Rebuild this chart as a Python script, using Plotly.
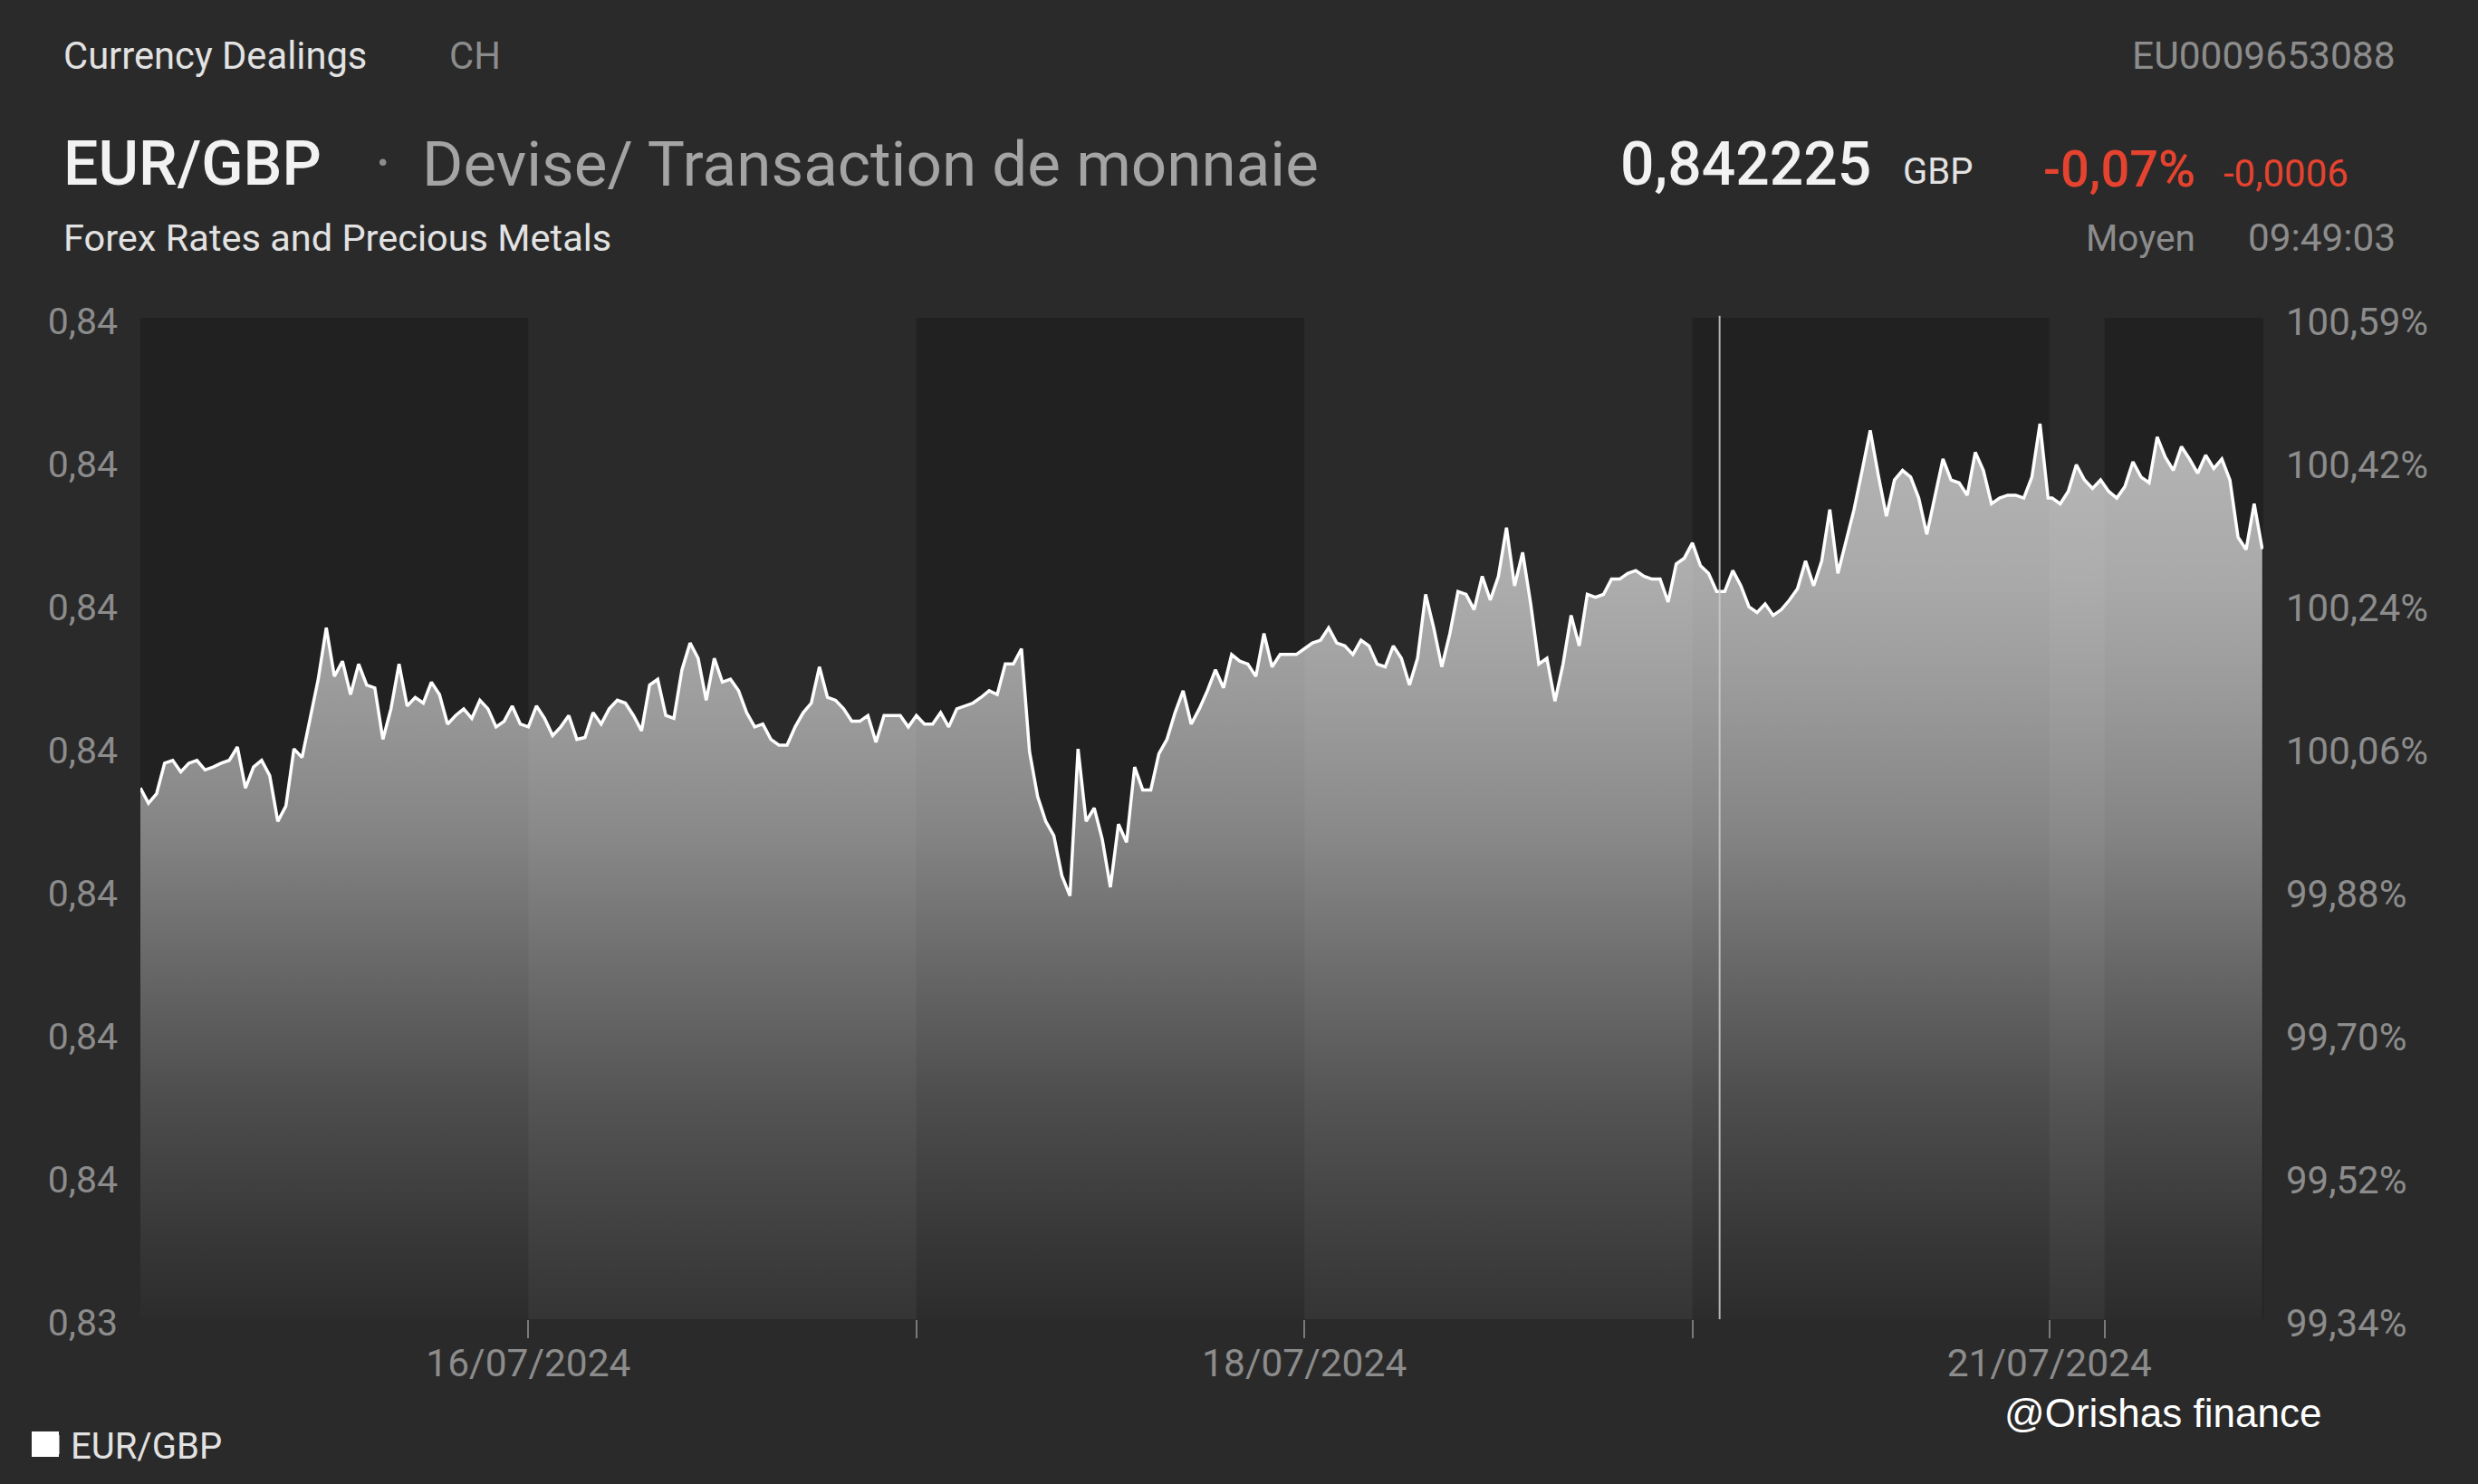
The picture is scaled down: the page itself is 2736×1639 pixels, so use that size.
import pandas as pd
import plotly.graph_objects as go

# ---------------- data ----------------
week_start = "2024-07-15 00:00"      # Mon 15/07 -> Fri 19/07 22:00, every 30 min
sunday_start = "2024-07-21 20:45"    # Sun 21/07 evening -> Mon 22/07 09:45
sample_freq = "30min"

week_prices = [
    0.83972, 0.83956, 0.83966, 0.83998, 0.84001, 0.83989, 0.83998, 0.84001, 0.83991, 0.83994,
    0.83998, 0.84001, 0.84015, 0.83972, 0.83994, 0.84001, 0.83985, 0.83937, 0.83953, 0.84013,
    0.84004, 0.84045, 0.84086, 0.84140, 0.84089, 0.84105, 0.84070, 0.84102, 0.84080, 0.84077,
    0.84023, 0.84055, 0.84102, 0.84058, 0.84067, 0.84061, 0.84083, 0.84070, 0.84039, 0.84048,
    0.84055, 0.84045, 0.84064, 0.84055, 0.84036, 0.84042, 0.84058, 0.84039, 0.84036, 0.84058,
    0.84045, 0.84027, 0.84036, 0.84048, 0.84023, 0.84025, 0.84051, 0.84039, 0.84055, 0.84064,
    0.84061, 0.84048, 0.84032, 0.84080, 0.84086, 0.84048, 0.84045, 0.84096, 0.84124, 0.84108,
    0.84064, 0.84108, 0.84083, 0.84086, 0.84074, 0.84051, 0.84036, 0.84039, 0.84023, 0.84017,
    0.84017, 0.84036, 0.84051, 0.84061, 0.84099, 0.84067, 0.84064, 0.84055, 0.84042, 0.84042,
    0.84048, 0.84020, 0.84048, 0.84048, 0.84048, 0.84036, 0.84048, 0.84039, 0.84039, 0.84051,
    0.84036, 0.84055, 0.84058, 0.84061, 0.84067, 0.84074, 0.84070, 0.84102, 0.84102, 0.84118,
    0.84010, 0.83963, 0.83937, 0.83922, 0.83880, 0.83859, 0.84013, 0.83937, 0.83951, 0.83918,
    0.83868, 0.83934, 0.83915, 0.83994, 0.83970, 0.83970, 0.84008, 0.84023, 0.84051, 0.84074,
    0.84039, 0.84055, 0.84074, 0.84096, 0.84077, 0.84112, 0.84105, 0.84102, 0.84089, 0.84134,
    0.84099, 0.84112, 0.84112, 0.84112, 0.84118, 0.84124, 0.84127, 0.84140, 0.84124, 0.84121,
    0.84112, 0.84127, 0.84121, 0.84102, 0.84099, 0.84121, 0.84108, 0.84080, 0.84108, 0.84175,
    0.84140, 0.84099, 0.84134, 0.84178, 0.84175, 0.84159, 0.84194, 0.84169, 0.84194, 0.84245,
    0.84184, 0.84219, 0.84165, 0.84102, 0.84108, 0.84063, 0.84102, 0.84153, 0.84121, 0.84175,
    0.84172, 0.84175, 0.84191, 0.84191, 0.84197, 0.84200, 0.84194, 0.84191, 0.84191, 0.84167,
    0.84207, 0.84213, 0.84229, 0.84205, 0.84197, 0.84178, 0.84178, 0.84200, 0.84184, 0.84162,
    0.84156, 0.84165, 0.84153, 0.84159, 0.84169, 0.84181, 0.84210, 0.84184, 0.84210, 0.84264,
    0.84197, 0.84229, 0.84264, 0.84305, 0.84347, 0.84300, 0.84257, 0.84295, 0.84305, 0.84298,
    0.84276, 0.84238, 0.84279, 0.84317, 0.84295, 0.84292, 0.84279, 0.84324, 0.84305, 0.84270,
    0.84276, 0.84279, 0.84279, 0.84276, 0.84298, 0.84354, 0.84276,
]

monday_prices = [
    0.84276, 0.84270, 0.84283, 0.84311, 0.84295, 0.84286, 0.84295, 0.84283, 0.84276, 0.84288,
    0.84314, 0.84298, 0.84292, 0.84340, 0.84319, 0.84305, 0.84330, 0.84317, 0.84302, 0.84321,
    0.84307, 0.84317, 0.84295, 0.84235, 0.84222, 0.84270, 0.842225,
]

# alternating darker day bands
band_starts = ["2024-07-15 00:00", "2024-07-17 00:00", "2024-07-19 00:00", "2024-07-22 00:00"]
band_ends = ["2024-07-16 00:00", "2024-07-18 00:00", "2024-07-21 20:35", "2024-07-22 09:49"]

weekend_gap_start = "2024-07-19 22:05"
weekend_gap_hours = 46.5
x_end = "2024-07-22 09:49"
marker_time = "2024-07-19 01:41"

x_tick_vals = ["2024-07-16 00:00", "2024-07-17 00:00", "2024-07-18 00:00",
               "2024-07-19 00:00", "2024-07-21 20:35", "2024-07-22 00:00"]
x_tick_text = ["16/07/2024", "", "18/07/2024", "", "21/07/2024", ""]

y_range = [0.83415, 0.84465]
left_tick_text = ["0,83", "0,84", "0,84", "0,84", "0,84", "0,84", "0,84", "0,84"]
right_tick_text = ["99,34%", "99,52%", "99,70%", "99,88%", "100,06%", "100,24%", "100,42%", "100,59%"]

# ---------------- figure ----------------
W, H = 2736, 1639
L, R, T, B = 155, 2499, 351, 1457
BG = "#2a2a2a"
BAND = "#212121"
GRAY = "#8c8c8c"
LIGHT = "#e2e2e2"
RED = "#e5432f"
FONT = "Roboto"


def px(x):
    return (x - L) / (R - L)


def py(y):
    return (B - y) / (B - T)


x_week = list(pd.date_range(week_start, periods=len(week_prices), freq=sample_freq))
x_mon = list(pd.date_range(sunday_start, periods=len(monday_prices), freq=sample_freq))
xs = x_week + x_mon
ys = week_prices + monday_prices

n = len(left_tick_text)
tick_vals = [y_range[0] + (y_range[1] - y_range[0]) * k / (n - 1) for k in range(n)]

fig = go.Figure()
fig.add_trace(go.Scatter(
    x=xs, y=ys, mode="lines", name="EUR/GBP", showlegend=False,
    line=dict(color="white", width=3.5),
    fill="tozeroy",
    fillgradient=dict(
        type="vertical", start=y_range[0], stop=y_range[1],
        colorscale=[
            [0.0, "rgba(255,255,255,0.05)"],
            [0.08, "rgba(255,255,255,0.10)"],
            [0.22, "rgba(255,255,255,0.20)"],
            [0.355, "rgba(255,255,255,0.32)"],
            [0.49, "rgba(255,255,255,0.45)"],
            [0.63, "rgba(255,255,255,0.55)"],
            [0.74, "rgba(255,255,255,0.615)"],
            [1.0, "rgba(255,255,255,0.70)"],
        ],
    ),
    hoverinfo="x+y",
))
# invisible trace carrying the percentage axis
fig.add_trace(go.Scatter(
    x=[xs[0], x_end], y=y_range, yaxis="y2", mode="lines",
    line=dict(color="rgba(0,0,0,0)"), hoverinfo="skip", showlegend=False,
))
# legend entry
fig.add_trace(go.Scatter(
    x=[None], y=[None], mode="markers", name="EUR/GBP",
    marker=dict(symbol="square", size=16, color="white",
                line=dict(color="white", width=8)),
))

shapes = []
for s, e in zip(band_starts, band_ends):
    shapes.append(dict(type="rect", xref="x", yref="paper", x0=s, x1=e, y0=0, y1=1,
                       fillcolor=BAND, line=dict(width=0), layer="below"))
shapes.append(dict(type="line", xref="x", yref="paper", x0=marker_time, x1=marker_time,
                   y0=0, y1=1.002, line=dict(color="rgba(205,205,205,0.85)", width=2), layer="above"))
# enlarged legend swatch behind the legend symbol
shapes.append(dict(type="rect", xref="paper", yref="paper", x0=px(35), x1=px(65),
                   y0=py(1609), y1=py(1581), fillcolor="white", line=dict(width=0), layer="above"))


def ann(text, x, y, size, color, anchor="left", weight=None, family=FONT):
    f = dict(family=family, size=size, color=color)
    if weight:
        f["weight"] = weight
    return dict(text=text, x=px(x), y=py(y), xref="paper", yref="paper",
                xanchor=anchor, yanchor="middle", showarrow=False, font=f)


annotations = [
    ann("Currency Dealings", 68, 61, 41.7, LIGHT),
    ann("CH", 494, 61, 41.7, GRAY),
    ann("EU0009653088", 2647, 61, 42.5, GRAY, anchor="right"),
    ann("EUR/GBP", 68, 181, 68, "#f2f2f2", weight=500),
    ann("·", 412, 181, 68, GRAY),
    ann("Devise/ Transaction de monnaie", 464, 181, 69.2, "#a4a4a4"),
    ann("Forex Rates and Precious Metals", 68, 263, 41.5, LIGHT),
    ann("0,842225", 1787, 181, 66, "#f2f2f2", weight=500),
    ann("GBP", 2099, 190, 40, LIGHT),
    ann("-0,07%", 2254, 187, 56, RED, weight=500),
    ann("-0,0006", 2453, 192, 42, RED),
    ann("Moyen", 2301, 263, 40.5, GRAY),
    ann("09:49:03", 2647, 263, 42.3, GRAY, anchor="right"),
    ann("@Orishas finance", 2211, 1560, 44, "#ffffff", family="Liberation Sans"),
]

fig.update_layout(
    width=W, height=H, autosize=False,
    margin=dict(l=L, r=W - R, t=T, b=H - B, pad=0, autoexpand=False),
    paper_bgcolor=BG, plot_bgcolor=BG,
    font=dict(family=FONT, color=GRAY),
    shapes=shapes, annotations=annotations,
    showlegend=True,
    legend=dict(x=px(32), y=py(1563), xanchor="left", yanchor="top",
                font=dict(family=FONT, size=40, color=LIGHT),
                bgcolor="rgba(0,0,0,0)", itemwidth=36),
    xaxis=dict(
        type="date", range=[xs[0], x_end], automargin=False,
        rangebreaks=[dict(values=[weekend_gap_start], dvalue=weekend_gap_hours * 3600 * 1000)],
        tickmode="array", tickvals=x_tick_vals, ticktext=x_tick_text,
        ticks="outside", ticklen=20, tickwidth=2, tickcolor="#7a7a7a",
        ticklabelstandoff=-9,
        tickfont=dict(family=FONT, size=42.5, color=GRAY),
        showgrid=False, zeroline=False, showline=False,
    ),
    yaxis=dict(
        range=y_range, tickmode="array", tickvals=tick_vals, ticktext=left_tick_text,
        tickfont=dict(family=FONT, size=41, color=GRAY), ticks="", automargin=False,
        ticklabelstandoff=24, ticklabelshift=4,
        showgrid=False, zeroline=False, showline=False,
    ),
    yaxis2=dict(
        range=y_range, overlaying="y", side="right", anchor="x", automargin=False,
        tickmode="array", tickvals=tick_vals, ticktext=right_tick_text,
        tickfont=dict(family=FONT, size=42, color=GRAY), ticks="",
        ticklabelstandoff=24, ticklabelshift=4,
        showgrid=False, zeroline=False, showline=False,
    ),
    hovermode="closest",
)

fig.write_html(
    "out.html",
    config={"displayModeBar": False},
    post_script="document.body.style.margin='0';document.body.style.background='#2a2a2a';",
)
